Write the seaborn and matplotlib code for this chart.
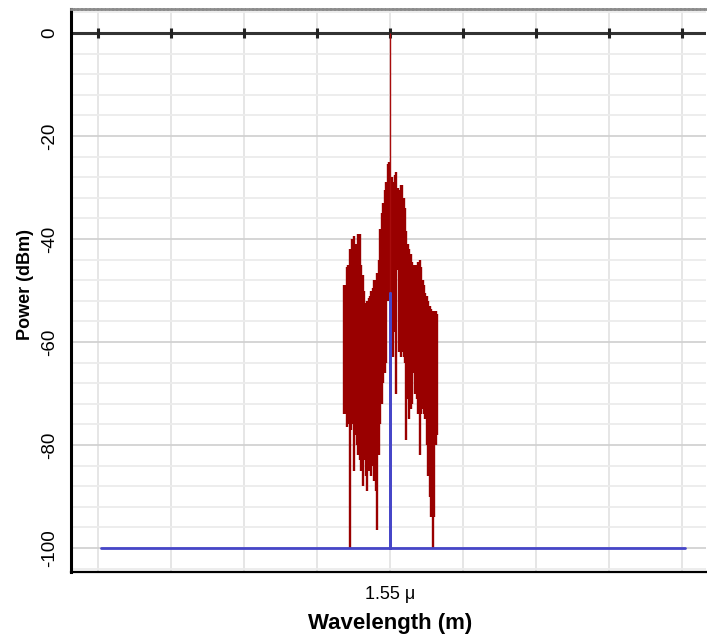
import matplotlib
matplotlib.use('Agg')
import matplotlib.pyplot as plt
import seaborn as sns
import pandas as pd
from matplotlib.ticker import MultipleLocator, FixedLocator, FixedFormatter

# ---------------- data ----------------
# red spectrum: sampled wavelength columns (um) with upper / lower power (dBm)
red_wl = [1.5436, 1.5438, 1.5440, 1.5442, 1.5444, 1.5446, 1.5448, 1.5450, 1.5452, 1.5454,
          1.5456, 1.5458, 1.5460, 1.5462, 1.5464, 1.5466, 1.5468, 1.5470, 1.5472, 1.5474,
          1.5476, 1.5478, 1.5480, 1.5482, 1.5484, 1.5486, 1.5488, 1.5490, 1.5492, 1.5494,
          1.5496, 1.5498, 1.5500, 1.5502, 1.5504, 1.5506, 1.5508, 1.5510, 1.5512, 1.5514,
          1.5516, 1.5518, 1.5520, 1.5522, 1.5524, 1.5526, 1.5528, 1.5530, 1.5532, 1.5534,
          1.5536, 1.5538, 1.5540, 1.5542, 1.5544, 1.5546, 1.5548, 1.5550, 1.5552, 1.5554,
          1.5556, 1.5558, 1.5560, 1.5562, 1.5564]
red_upper = [-49, -49, -45.5, -45, -42, -42, -40, -39.5, -41, -41,
             -39, -39, -45, -47, -50, -52.5, -52, -51.5, -51, -50,
             -49.5, -48, -48, -46.5, -44, -38, -35, -33, -30.5, -29,
             -25.5, -25, 0, -28, -29, -27.5, -27, -30, -30.5, -29.5,
             -29.5, -32, -34, -38.5, -41, -42, -43, -44.5, -45, -45,
             -45, -44.5, -44, -45.5, -48, -49, -50.5, -51, -52, -53,
             -53.5, -54, -54, -54, -54.5]
red_lower = [-74, -74, -76.5, -76, -100, -77, -76, -85, -78, -80,
             -82, -83, -85, -88, -83, -86, -89, -85, -84, -86,
             -84, -87, -89, -96.5, -82, -76, -72, -68, -66, -64,
             -52, -51, -60, -62, -63, -58, -70, -46, -62, -63,
             -62, -63, -64, -79, -71, -75, -73, -72, -66, -70,
             -71, -74, -82, -74, -73, -74, -75, -80, -86, -90,
             -94, -100, -94, -80, -78]

# blue signal: noise floor with a single line at 1.55 um
blue_wl = [1.5104, 1.5500, 1.5500, 1.5500, 1.5904]
blue_pw = [-100, -100, -50.5, -100, -100]

x_ticks = [1.51, 1.52, 1.53, 1.54, 1.55, 1.56, 1.57, 1.58, 1.59]
x_tick_labels = ['', '', '', '', '1.55 \u03bc', '', '', '', '']
y_ticks = [0, -20, -40, -60, -80, -100]

# ---------------- build tables ----------------
red_df = pd.DataFrame({'wl': red_wl, 'upper': red_upper, 'lower': red_lower})
blue_df = pd.DataFrame({'wl': blue_wl, 'pw': blue_pw})

sns.set_style('white')
plt.rcParams['font.family'] = ['Liberation Sans', 'DejaVu Sans']
plt.rcParams['axes.unicode_minus'] = False
plt.rcParams['text.color'] = 'black'
plt.rcParams['axes.labelcolor'] = 'black'
plt.rcParams['xtick.labelcolor'] = 'black'
plt.rcParams['ytick.labelcolor'] = 'black'

fig = plt.figure(figsize=(7.07, 6.36), dpi=100)
ax = fig.add_axes([0.1004, 0.1006, 0.898, 0.8852])

# dense spectrum drawn as a vertical stroke per sample column
body = red_df[red_df['upper'] < 0]
ax.vlines(body['wl'], body['lower'], body['upper'], color='#990000',
          lw=1.7, zorder=3)
# thin spike at the carrier
spike = red_df[red_df['upper'] == 0]
ax.vlines(spike['wl'], spike['lower'], spike['upper'], color='#a80c0c',
          lw=1.0, zorder=3)
sns.lineplot(data=blue_df, x='wl', y='pw', sort=False, estimator=None,
             color='#4646c8', lw=2.0, ax=ax, zorder=4)

ax.set_xlim(1.50623, 1.59322)
ax.set_ylim(-104.66, 4.66)
ax.set_xlabel('')
ax.set_ylabel('')

# zero reference line with markers at major positions
ax.axhline(0, color='#333333', lw=2.2, zorder=2)
ax.plot(x_ticks, [0] * len(x_ticks), ls='none', marker='|', ms=7, mew=2.2,
        color='#222222', zorder=2, clip_on=False)

# ticks
ax.xaxis.set_major_locator(FixedLocator(x_ticks))
ax.xaxis.set_major_formatter(FixedFormatter(x_tick_labels))
ax.xaxis.set_minor_locator(MultipleLocator(0.0004))
ax.yaxis.set_major_locator(FixedLocator(y_ticks))
ax.yaxis.set_minor_locator(MultipleLocator(4))

ax.tick_params(axis='x', which='major', direction='out', length=4, width=1.5,
               color='black', labelsize=13, pad=6, labelcolor='black')
ax.tick_params(axis='x', which='minor', direction='inout', length=4, width=1.0,
               color='#222222')
ax.tick_params(axis='y', which='major', direction='inout', length=12, width=1.6,
               color='black', labelsize=13.5, pad=3, labelrotation=90,
               labelcolor='black')
ax.tick_params(axis='y', which='minor', direction='inout', length=6, width=1.6,
               color='black')
for t in ax.get_yticklabels():
    t.set_va('center')

# grid
ax.grid(which='major', axis='x', color='#e4e4e4', lw=1.3, zorder=0)
ax.grid(which='minor', axis='y', color='#ececec', lw=1.3, zorder=0)
ax.grid(which='major', axis='y', color='#d2d2d2', lw=1.3, zorder=0)
ax.set_axisbelow(True)

# spines
ax.spines['left'].set_color('black')
ax.spines['left'].set_linewidth(2.2)
ax.spines['bottom'].set_color('black')
ax.spines['bottom'].set_linewidth(1.6)
ax.spines['right'].set_visible(False)
ax.spines['top'].set_color('#8c8c8c')
ax.spines['top'].set_linewidth(2.0)
ax.spines['top'].set_linestyle((0, (0.7, 0.7)))

# labels
ax.set_xlabel('Wavelength (m)', fontsize=16, fontweight='bold', color='black')
ax.set_ylabel('Power (dBm)', fontsize=13, fontweight='bold', color='black')
ax.xaxis.label.set_va('center')
ax.yaxis.label.set_va('center')
ax.xaxis.set_label_coords(0.502, -0.0906)
ax.yaxis.set_label_coords(-0.0724, 0.51)

fig.savefig('out.png', dpi=100, facecolor='white')
